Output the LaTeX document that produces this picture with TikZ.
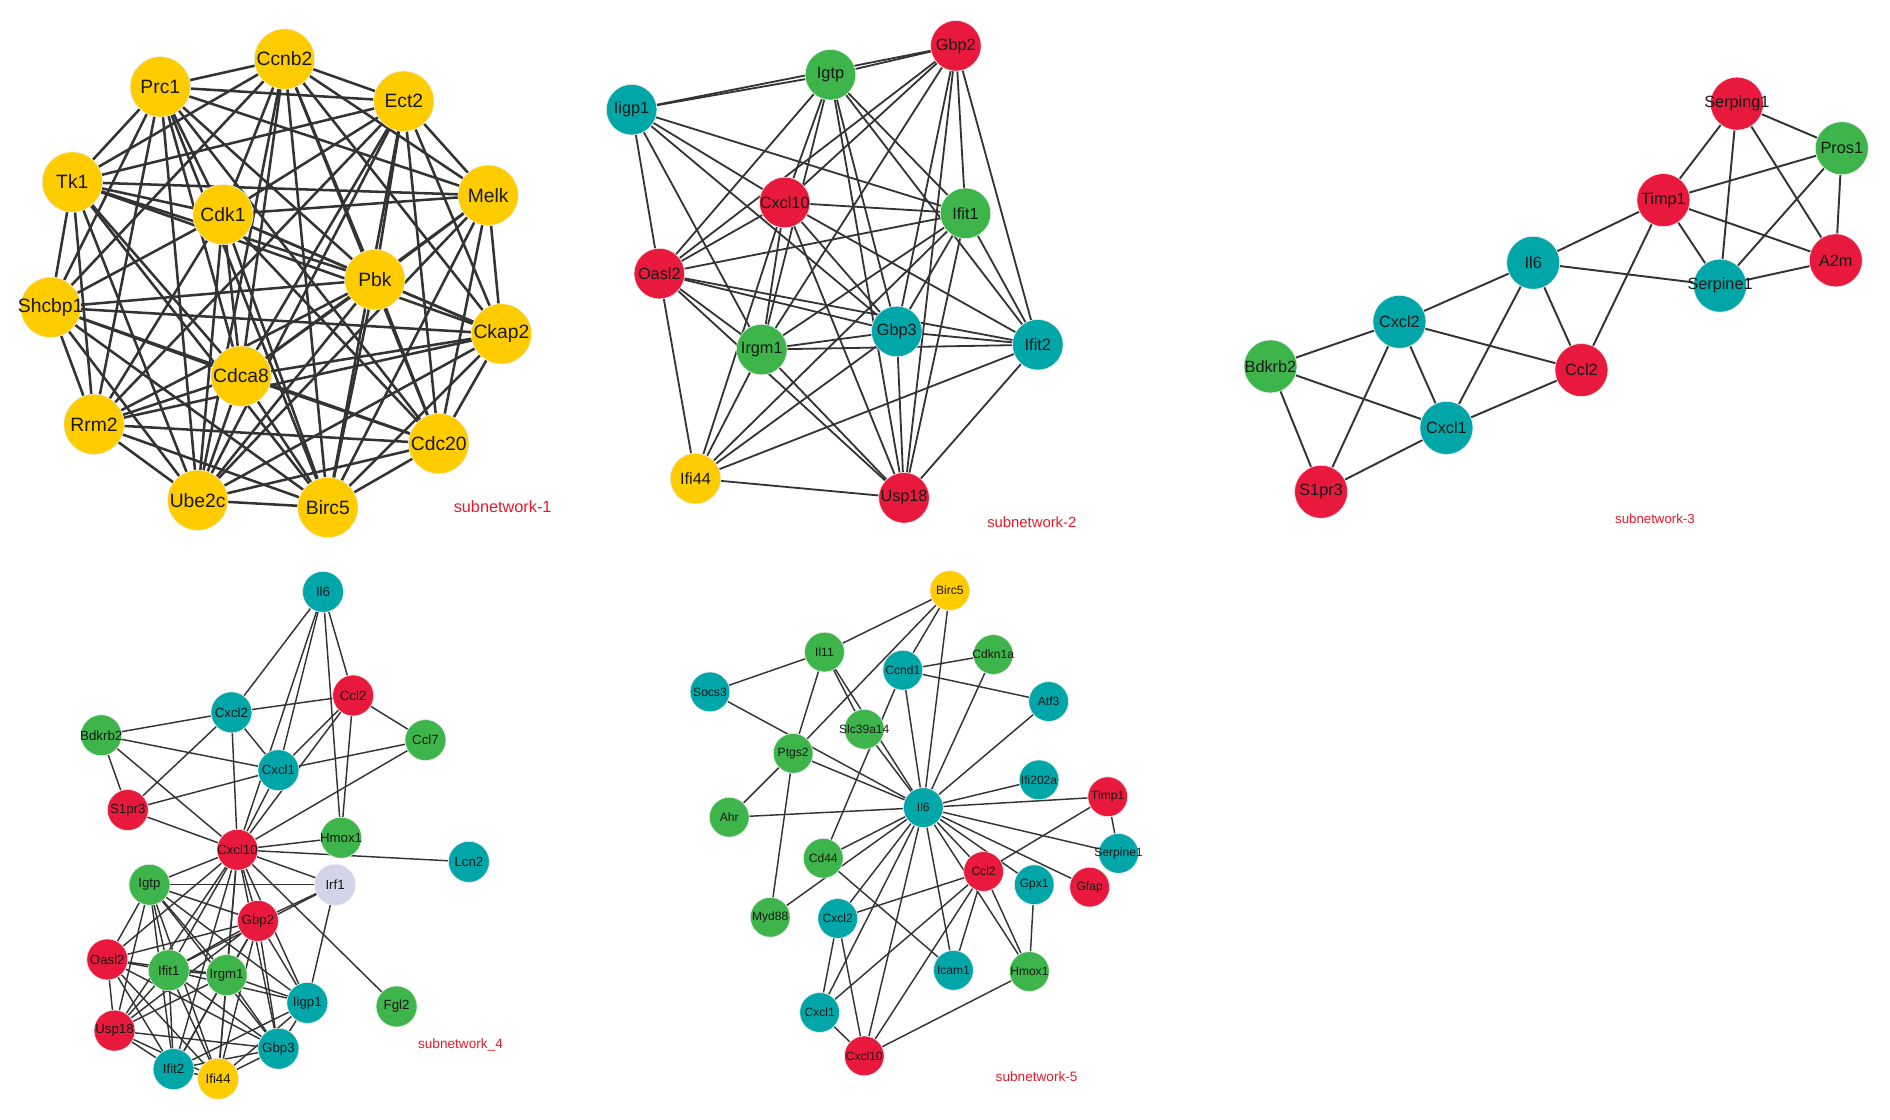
\documentclass[tikz,border=0pt]{standalone}
\usepackage{fontspec}
\setmainfont{Liberation Sans}
\usetikzlibrary{backgrounds}
\definecolor{cy}{HTML}{FFCC00}
\definecolor{cg}{HTML}{3DB54A}
\definecolor{ct}{HTML}{00A6A8}
\definecolor{cr}{HTML}{E8193C}
\definecolor{cl}{HTML}{D3D3EA}
\definecolor{ce}{HTML}{333333}
\definecolor{clab}{HTML}{E8192C}
\newcommand{\wide}[1]{\makebox[0pt]{#1}}
\expandafter\def\csname skip4-12\endcsname{}
\expandafter\def\csname skip2-9\endcsname{}
\expandafter\def\csname skip6-8\endcsname{}
\expandafter\def\csname skip1-11\endcsname{}
\expandafter\def\csname skip3-8\endcsname{}
\expandafter\def\csname skip6-11\endcsname{}
\begin{document}
\begin{tikzpicture}[x=1pt,y=-1pt,
  gn/.style={circle,inner sep=0pt,draw=white!85!gray,line width=0.5pt,text=black!90},
  nA/.style={gn,minimum size=50pt,font=\fontsize{16}{16}\selectfont},
  nB/.style={gn,minimum size=42pt,font=\fontsize{13.5}{13.5}\selectfont},
  nC/.style={gn,minimum size=44pt,font=\fontsize{13.5}{13.5}\selectfont},
  nD/.style={gn,minimum size=34pt,font=\fontsize{11}{11}\selectfont},
  nE/.style={gn,minimum size=33pt,font=\fontsize{10}{10}\selectfont},
  eA/.style={draw=ce,line width=2.1pt},
  eB/.style={draw=ce,line width=1.5pt},
  eC/.style={draw=ce,line width=1.6pt},
  eD/.style={draw=ce,line width=1.2pt},
  eE/.style={draw=ce,line width=1.2pt},
  sublab/.style={text=clab,inner sep=0pt}]
\useasboundingbox (0,0) rectangle (1568,929);
\begin{scope}[on background layer]
\fill[white] (0,0) rectangle (1568,929);
\end{scope}
% ---------- subnetwork-1
\node[nA,fill=cy] (a1) at (236,49) {Ccnb2};
\node[nA,fill=cy] (a2) at (133,72) {Prc1};
\node[nA,fill=cy] (a3) at (335,84) {Ect2};
\node[nA,fill=cy] (a4) at (60,151) {Tk1};
\node[nA,fill=cy] (a5) at (185,178) {Cdk1};
\node[nA,fill=cy] (a6) at (405,162) {Melk};
\node[nA,fill=cy] (a7) at (311,232) {Pbk};
\node[nA,fill=cy] (a8) at (42,255) {\wide{Shcbp1}};
\node[nA,fill=cy] (a9) at (416,277) {Ckap2};
\node[nA,fill=cy] (a10) at (200,312) {Cdca8};
\node[nA,fill=cy] (a11) at (78,352) {Rrm2};
\node[nA,fill=cy] (a12) at (364,368) {Cdc20};
\node[nA,fill=cy] (a13) at (164,415) {Ube2c};
\node[nA,fill=cy] (a14) at (272,421) {Birc5};
\node[sublab,font=\fontsize{13.5}{13.5}\selectfont] (l1) at (417,420) {subnetwork-1};
\begin{scope}[on background layer]
\foreach \i in {1,...,13}{
  \pgfmathtruncatemacro\s{\i+1}
  \foreach \j in {\s,...,14}{
    \ifcsname skip\i-\j\endcsname\else\draw[eA] (a\i) -- (a\j);\fi
  }}
\end{scope}
% ---------- subnetwork-2
\node[nB,fill=cr] (bGbp2) at (793,38) {Gbp2};
\node[nB,fill=cg] (bIgtp) at (689,62) {Igtp};
\node[nB,fill=ct] (bIigp1) at (524,91) {Iigp1};
\node[nB,fill=cr] (bCxcl10) at (651,168) {\wide{Cxcl10}};
\node[nB,fill=cg] (bIfit1) at (801,177) {Ifit1};
\node[nB,fill=cr] (bOasl2) at (547,227) {Oasl2};
\node[nB,fill=ct] (bGbp3) at (744,275) {Gbp3};
\node[nB,fill=cg] (bIrgm1) at (632,290) {Irgm1};
\node[nB,fill=ct] (bIfit2) at (861,286) {Ifit2};
\node[nB,fill=cy] (bIfi44) at (577,397) {Ifi44};
\node[nB,fill=cr] (bUsp18) at (750,413) {Usp18};
\node[sublab,font=\fontsize{12.3}{12.3}\selectfont] (l2) at (856,433) {subnetwork-2};
\begin{scope}[on background layer]
\foreach \u/\v in {Iigp1/Igtp, Iigp1/Gbp2, Igtp/Gbp2, Iigp1/Oasl2, Iigp1/Irgm1, Iigp1/Cxcl10, Iigp1/Ifit1, Iigp1/Gbp3, Igtp/Oasl2, Igtp/Cxcl10, Igtp/Irgm1, Igtp/Gbp3, Igtp/Usp18, Igtp/Ifit1, Igtp/Ifit2, Gbp2/Cxcl10, Gbp2/Oasl2, Gbp2/Irgm1, Gbp2/Gbp3, Gbp2/Ifit1, Gbp2/Ifit2, Gbp2/Usp18, Cxcl10/Ifit1, Cxcl10/Oasl2, Cxcl10/Irgm1, Cxcl10/Gbp3, Cxcl10/Ifit2, Cxcl10/Usp18, Cxcl10/Ifi44, Oasl2/Ifit1, Oasl2/Gbp3, Oasl2/Ifit2, Oasl2/Irgm1, Oasl2/Usp18, Oasl2/Ifi44, Ifit1/Irgm1, Ifit1/Gbp3, Ifit1/Ifit2, Ifit1/Usp18, Ifit1/Ifi44, Irgm1/Gbp3, Irgm1/Ifit2, Irgm1/Usp18, Irgm1/Ifi44, Gbp3/Ifit2, Gbp3/Usp18, Gbp3/Ifi44, Ifit2/Usp18, Ifit2/Ifi44, Ifi44/Usp18}
  \draw[eB] (b\u) -- (b\v);
\end{scope}
% ---------- subnetwork-3
\node[nC,fill=cr] (cSerping1) at (1441,86) {\wide{Serping1}};
\node[nC,fill=cg] (cPros1) at (1528,123) {Pros1};
\node[nC,fill=cr] (cTimp1) at (1380,166) {Timp1};
\node[nC,fill=ct] (cIl6) at (1272,218) {Il6};
\node[nC,fill=cr] (cA2m) at (1523,216) {A2m};
\node[nC,fill=ct] (cSerpine1) at (1427,237) {\wide{Serpine1}};
\node[nC,fill=ct] (cCxcl2) at (1161,267) {Cxcl2};
\node[nC,fill=cg] (cBdkrb2) at (1054,304) {\wide{Bdkrb2}};
\node[nC,fill=cr] (cCcl2) at (1312,307) {Ccl2};
\node[nC,fill=ct] (cCxcl1) at (1200,355) {Cxcl1};
\node[nC,fill=cr] (cS1pr3) at (1096,408) {S1pr3};
\node[sublab,font=\fontsize{11}{11}\selectfont] (l3) at (1373,430) {subnetwork-3};
\begin{scope}[on background layer]
\foreach \u/\v in {Serping1/Pros1, Serping1/Timp1, Serping1/Serpine1, Serping1/A2m, Pros1/Timp1, Pros1/Serpine1, Pros1/A2m, Timp1/A2m, Timp1/Serpine1, Timp1/Il6, Timp1/Ccl2, Il6/Serpine1, Serpine1/A2m, Il6/Cxcl2, Il6/Cxcl1, Il6/Ccl2, Cxcl2/Bdkrb2, Cxcl2/Ccl2, Cxcl2/Cxcl1, Cxcl2/S1pr3, Bdkrb2/Cxcl1, Bdkrb2/S1pr3, Cxcl1/Ccl2, Cxcl1/S1pr3}
  \draw[eC] (c\u) -- (c\v);
\end{scope}
% ---------- subnetwork_4
\node[nD,fill=ct] (dIl6) at (268,491) {Il6};
\node[nD,fill=cr] (dCcl2) at (293,577) {Ccl2};
\node[nD,fill=ct] (dCxcl2) at (192,591) {Cxcl2};
\node[nD,fill=cg] (dBdkrb2) at (84,610) {\wide{Bdkrb2}};
\node[nD,fill=cg] (dCcl7) at (353,614) {Ccl7};
\node[nD,fill=ct] (dCxcl1) at (231,639) {Cxcl1};
\node[nD,fill=cr] (dS1pr3) at (106,672) {S1pr3};
\node[nD,fill=cg] (dHmox1) at (283,695) {\wide{Hmox1}};
\node[nD,fill=cr] (dCxcl10) at (197,705) {\wide{Cxcl10}};
\node[nD,fill=ct] (dLcn2) at (389,715) {Lcn2};
\node[nD,fill=cg] (dIgtp) at (124,734) {Igtp};
\node[nD,fill=cl] (dIrf1) at (278,734) {Irf1};
\node[nD,fill=cr] (dGbp2) at (214,764) {Gbp2};
\node[nD,fill=cr] (dOasl2) at (89,796) {Oasl2};
\node[nD,fill=cg] (dIfit1) at (140,805) {Ifit1};
\node[nD,fill=cg] (dIrgm1) at (188,809) {Irgm1};
\node[nD,fill=ct] (dIigp1) at (255,832) {Iigp1};
\node[nD,fill=cg] (dFgl2) at (329,835) {Fgl2};
\node[nD,fill=cr] (dUsp18) at (95,855) {\wide{Usp18}};
\node[nD,fill=ct] (dGbp3) at (231,870) {Gbp3};
\node[nD,fill=ct] (dIfit2) at (144,887) {Ifit2};
\node[nD,fill=cy] (dIfi44) at (181,895) {Ifi44};
\node[sublab,font=\fontsize{11.3}{11.3}\selectfont] (l4) at (382,867) {subnetwork\_4};
\begin{scope}[on background layer]
\foreach \u/\v in {Il6/Cxcl2, Il6/Cxcl1, Il6/Ccl2, Il6/Hmox1, Il6/Cxcl10, Ccl2/Cxcl2, Ccl2/Ccl7, Ccl2/Cxcl1, Ccl2/Cxcl10, Ccl2/Hmox1, Cxcl2/Bdkrb2, Cxcl2/Cxcl1, Cxcl2/S1pr3, Cxcl2/Cxcl10, Bdkrb2/Cxcl1, Bdkrb2/S1pr3, Bdkrb2/Cxcl10, Ccl7/Cxcl1, Ccl7/Cxcl10, Cxcl1/S1pr3, Cxcl1/Cxcl10, S1pr3/Cxcl10, Cxcl10/Hmox1, Cxcl10/Lcn2, Cxcl10/Igtp, Cxcl10/Irf1, Cxcl10/Gbp2, Cxcl10/Fgl2, Cxcl10/Oasl2, Cxcl10/Ifit1, Cxcl10/Irgm1, Cxcl10/Iigp1, Cxcl10/Gbp3, Cxcl10/Ifit2, Cxcl10/Usp18, Cxcl10/Ifi44, Igtp/Irf1, Igtp/Gbp2, Igtp/Oasl2, Igtp/Usp18, Igtp/Ifit1, Igtp/Irgm1, Igtp/Iigp1, Igtp/Gbp3, Igtp/Ifit2, Igtp/Ifi44, Irf1/Gbp2, Irf1/Ifit1, Irf1/Iigp1, Gbp2/Oasl2, Gbp2/Ifit1, Gbp2/Irgm1, Gbp2/Iigp1, Gbp2/Gbp3, Gbp2/Usp18, Gbp2/Ifit2, Gbp2/Ifi44, Oasl2/Ifit1, Oasl2/Irgm1, Oasl2/Usp18, Oasl2/Ifit2, Oasl2/Ifi44, Oasl2/Gbp3, Ifit1/Irgm1, Ifit1/Usp18, Ifit1/Ifit2, Ifit1/Ifi44, Ifit1/Gbp3, Ifit1/Iigp1, Irgm1/Usp18, Irgm1/Ifit2, Irgm1/Ifi44, Irgm1/Gbp3, Irgm1/Iigp1, Usp18/Ifit2, Usp18/Ifi44, Usp18/Gbp3, Iigp1/Gbp3, Iigp1/Ifi44, Iigp1/Ifit2, Ifit2/Ifi44, Ifit2/Gbp3, Ifi44/Gbp3}
  \draw[eD] (d\u) -- (d\v);
\end{scope}
% ---------- subnetwork-5
\node[nE,fill=cy] (eBirc5) at (788,490) {Birc5};
\node[nE,fill=cg] (eIl11) at (684,541) {Il11};
\node[nE,fill=cg] (eCdkn1a) at (824,543) {\wide{Cdkn1a}};
\node[nE,fill=ct] (eCcnd1) at (749,556) {Ccnd1};
\node[nE,fill=ct] (eSocs3) at (589,574) {Socs3};
\node[nE,fill=ct] (eAtf3) at (870,582) {Atf3};
\node[nE,fill=cg] (eSlc39a14) at (717,605) {\wide{Slc39a14}};
\node[nE,fill=cg] (ePtgs2) at (658,625) {Ptgs2};
\node[nE,fill=ct] (eIfi202a) at (862,647) {\wide{Ifi202a}};
\node[nE,fill=cr] (eTimp1) at (919,661) {Timp1};
\node[nE,fill=ct] (eIl6) at (766,670) {Il6};
\node[nE,fill=cg] (eAhr) at (605,678) {Ahr};
\node[nE,fill=ct] (eSerpine1) at (928,708) {\wide{Serpine1}};
\node[nE,fill=cg] (eCd44) at (683,712) {Cd44};
\node[nE,fill=cr] (eCcl2) at (816,723) {Ccl2};
\node[nE,fill=ct] (eGpx1) at (858,734) {Gpx1};
\node[nE,fill=cr] (eGfap) at (904,736) {Gfap};
\node[nE,fill=cg] (eMyd88) at (639,761) {\wide{Myd88}};
\node[nE,fill=ct] (eCxcl2) at (695,762) {Cxcl2};
\node[nE,fill=ct] (eIcam1) at (791,805) {Icam1};
\node[nE,fill=cg] (eHmox1) at (854,806) {\wide{Hmox1}};
\node[nE,fill=ct] (eCxcl1) at (680,840) {Cxcl1};
\node[nE,fill=cr] (eCxcl10) at (717,876) {\wide{Cxcl10}};
\node[sublab,font=\fontsize{11.3}{11.3}\selectfont] (l5) at (860,893) {subnetwork-5};
\begin{scope}[on background layer]
\foreach \u/\v in {Birc5/Il11, Birc5/Ptgs2, Birc5/Ccnd1, Birc5/Il6, Il11/Socs3, Il11/Ptgs2, Il11/Slc39a14, Il11/Il6, Socs3/Il6, Ccnd1/Cdkn1a, Ccnd1/Atf3, Ccnd1/Il6, Ccnd1/Cd44, Cdkn1a/Il6, Atf3/Il6, Slc39a14/Il6, Ptgs2/Il6, Ptgs2/Ahr, Ptgs2/Myd88, Ahr/Il6, Il6/Ifi202a, Il6/Timp1, Il6/Serpine1, Il6/Gfap, Il6/Gpx1, Il6/Ccl2, Il6/Hmox1, Il6/Icam1, Il6/Cxcl10, Il6/Cxcl1, Il6/Cxcl2, Il6/Cd44, Il6/Myd88, Timp1/Serpine1, Timp1/Ccl2, Cd44/Icam1, Ccl2/Cxcl2, Ccl2/Cxcl1, Ccl2/Cxcl10, Ccl2/Icam1, Ccl2/Hmox1, Gpx1/Hmox1, Cxcl2/Cxcl1, Cxcl2/Cxcl10, Cxcl1/Cxcl10, Hmox1/Cxcl10}
  \draw[eE] (e\u) -- (e\v);
\end{scope}
\end{tikzpicture}
\end{document}
